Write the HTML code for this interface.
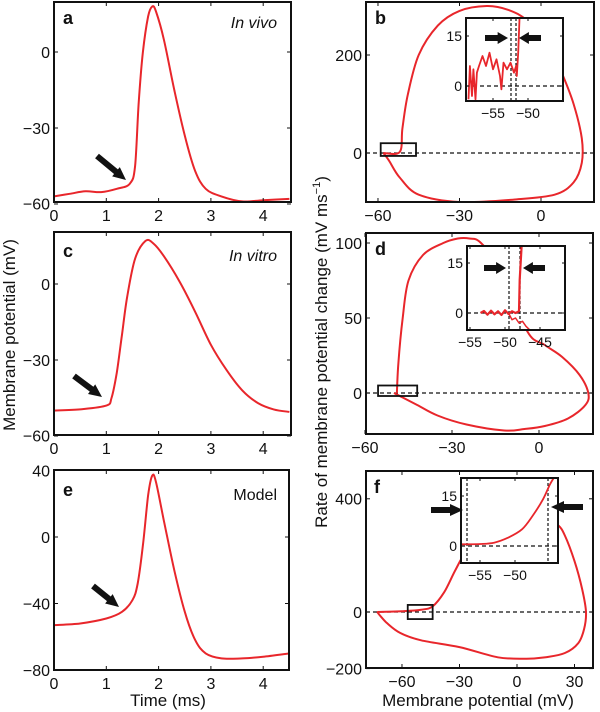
<!DOCTYPE html>
<html><head><meta charset="utf-8"><style>
html,body{margin:0;padding:0;background:#fff;width:600px;height:712px;overflow:hidden}
svg{display:block}
text{font-family:"Liberation Sans",sans-serif;fill:#111}
</style></head><body>
<svg id="fig" width="600" height="712" viewBox="0 0 600 712"></svg>
<script>
// ---- data arrays ----
const aTime=[0,0.3,0.6,0.9,1.2,1.45,1.55,1.62,1.7,1.8,1.88,1.95,2.1,2.3,2.5,2.7,2.9,3.2,3.6,4.0,4.5];
const aVolt=[-57,-56,-55,-55.3,-54,-52,-45,-20,0,14,18,16,5,-15,-33,-47,-54,-57,-59,-58.5,-58];
const cTime=[0,0.5,1.0,1.1,1.2,1.3,1.4,1.55,1.75,1.9,2.1,2.4,2.7,3.0,3.3,3.6,3.9,4.2,4.5];
const cVolt=[-50,-49.5,-48,-45,-35,-20,-5,10,17,16,11,1,-11,-24,-34,-42,-47,-49.5,-50.5];
const eTime=[0,0.5,1.0,1.3,1.5,1.6,1.7,1.8,1.88,1.95,2.1,2.3,2.5,2.7,2.9,3.2,3.6,4.0,4.5];
const eVolt=[-53,-52,-49,-45,-38,-28,-5,25,37,33,10,-20,-45,-62,-70,-73,-73,-72,-70];
const bV=[-58,-52,-51,-49,-45,-38,-30,-20,-12,-5,3,8,12,15,15,12,5,-10,-30,-45,-52,-56,-58];
const bR=[0,2,50,120,200,260,290,300,292,270,220,159,100,30,-20,-60,-85,-95,-100,-85,-50,-15,0];
const bInV=[-58.5,-58.3,-58,-57.8,-57.5,-57.3,-57,-56.5,-56,-55.5,-55,-54.5,-54,-53.8,-53.5,-53,-52.5,-52,-51.7,-51.6,-51.4,-51.2];
const bInR=[-4,6,-3,5,-4,4,6,9,6,10,5,8,3,-1,7,5,7,4,6,3,10,21];
const dV=[-49,-48.5,-47,-45,-40,-33,-28,-24,-20,-12,-4,2,8,14,17,16,10,2,-5,-12,-25,-35,-42,-47,-50];
const dR=[0,20,50,75,92,100,103,103,100,80,41,32,24,12,0,-8,-17,-22,-24,-25,-21,-15,-8,-3,0];
const dInV=[-53.5,-53,-52.5,-52,-51.5,-51,-50.5,-50,-49.5,-49,-48.5,-48,-47.9,-47.6];
const dInR=[0,0.6,-0.5,0.7,-0.4,0.5,-0.6,0.8,-0.3,0.5,0,0.5,10,21];
const dInV2=[-49.5,-49,-48.5,-48,-47.5,-47,-46];
const dInR2=[0,-2,-1.5,-3,-2.5,-4,-6];
const fV=[-73,-60,-50,-44,-38,-32,-26,-15,0,15,21.4,25,30,34,36,35,32,25,15,5,-10,-30,-50,-61,-68,-73];
const fR=[0,3,8,20,70,150,220,300,370,330,307,270,180,80,0,-60,-110,-145,-160,-165,-160,-124,-100,-74,-38,0];
const fInV=[-57.7,-55,-53,-51,-49,-47.5,-46,-45,-44.3];
const fInR=[0.5,0.6,1,2.5,5,9,14,18.5,21];
const tTicks=[0,1,2,3,4];
const vTicksAC=[0,-30,-60];
const vTicksE=[40,0,-40,-80];
const phTicksB=[-60,-30,0];
const rTicksB=[200,0];
const rTicksD=[100,50,0];
const phTicksF=[-60,-30,0,30];
const rTicksF=[400,0,-200];

const NS='http://www.w3.org/2000/svg';
const svg=document.getElementById('fig');
function el(tag,attrs,parent){const e=document.createElementNS(NS,tag);for(const k in attrs)e.setAttribute(k,attrs[k]);(parent||svg).appendChild(e);return e;}
function lin(v0,p0,k){return v=>p0+(v-v0)*k;}
function smooth(pts){let d='M'+pts[0][0].toFixed(1)+','+pts[0][1].toFixed(1);
 for(let i=0;i<pts.length-1;i++){const p0=pts[Math.max(0,i-1)],p1=pts[i],p2=pts[i+1],p3=pts[Math.min(pts.length-1,i+2)];
  const c1=[p1[0]+(p2[0]-p0[0])/6,p1[1]+(p2[1]-p0[1])/6],c2=[p2[0]-(p3[0]-p1[0])/6,p2[1]-(p3[1]-p1[1])/6];
  d+=' C'+c1[0].toFixed(1)+','+c1[1].toFixed(1)+' '+c2[0].toFixed(1)+','+c2[1].toFixed(1)+' '+p2[0].toFixed(1)+','+p2[1].toFixed(1);}
 return d;}
let clipId=0;
function panel(name,box,xs,ys,xt,yt,fs){
 const g=el('g',{});
 
 
 const [x0,y0,x1,y1]=box;
 el('rect',{x:x0,y:y0,width:x1-x0,height:y1-y0,fill:'#fff',stroke:'none'},g);
 const id='c'+(clipId++);
 const cp=el('clipPath',{id:id},g);el('rect',{x:x0,y:y0,width:x1-x0,height:y1-y0},cp);
 const inner=el('g',{'clip-path':'url(#'+id+')'},g);
 const tl=fs>14?4:3;
 xt.forEach(v=>{const x=xs(v);
  el('line',{x1:x,x2:x,y1:y1,y2:y1-tl,stroke:'#111','stroke-width':1},g);
  el('line',{x1:x,x2:x,y1:y0,y2:y0+tl,stroke:'#111','stroke-width':1},g);
  const tx=el('text',{x:x,y:y1+fs+3,'text-anchor':'middle','font-size':fs},g);tx.textContent=String(v).replace('-','\u2212');
  
  });
 yt.forEach(v=>{const y=ys(v);
  el('line',{x1:x0,x2:x0+tl,y1:y,y2:y,stroke:'#111','stroke-width':1},g);
  el('line',{x1:x1,x2:x1-tl,y1:y,y2:y,stroke:'#111','stroke-width':1},g);
  const tx=el('text',{x:x0-4,y:y+fs*0.36,'text-anchor':'end','font-size':fs},g);tx.textContent=String(v).replace('-','\u2212');
  
  });
 return {g,inner,box};
}
function frame(p,w){const [x0,y0,x1,y1]=p.box;const r=el('rect',{x:x0,y:y0,width:x1-x0,height:y1-y0,fill:'none',stroke:'#111','stroke-width':w||2},p.g);
 
 }
function curve(p,X,Y,xs,ys,name,w){const pts=X.map((v,i)=>[xs(v),ys(Y[i])]);
 const c=el('path',{d:smooth(pts),fill:'none',stroke:'#e8262b','stroke-width':w||2,'stroke-linejoin':'round'},p.inner);
 
 }
function jag(p,X,Y,xs,ys,name,w){const d=X.map((v,i)=>(i?'L':'M')+xs(v).toFixed(1)+','+ys(Y[i]).toFixed(1)).join(' ');
 const c=el('path',{d:d,fill:'none',stroke:'#e8262b','stroke-width':w||2,'stroke-linejoin':'round'},p.inner);
 
 }
function hdash(p,y){const l=el('line',{x1:p.box[0],x2:p.box[2],y1:y,y2:y,stroke:'#111','stroke-width':1.2,'stroke-dasharray':'4,3'},p.inner);
 
 }
function vdash(p,x){const l=el('line',{x1:x,x2:x,y1:p.box[1],y2:p.box[3],stroke:'#111','stroke-width':1.2,'stroke-dasharray':'3,2'},p.inner);
 
 }
function label(x,y,txt,opts,name){const t=el('text',Object.assign({x:x,y:y},opts));t.textContent=txt;
 
 return t;}
function arrow(xa,ya,xb,yb,name){const ang=Math.atan2(yb-ya,xb-xa),L=Math.hypot(xb-xa,yb-ya);
 const g=el('g',{transform:`translate(${xb},${yb}) rotate(${ang*180/Math.PI})`});
 
 
 const h=Math.min(13,L*0.45);
 el('polygon',{points:`0,0 ${-h},${-6} ${-h},${-3} ${-L},${-3} ${-L},3 ${-h},3 ${-h},6`,fill:'#111'},g);}

const FS=16, IFS=14;
// ---- panel a ----
const xT=lin(0,54,52.3);
let ys=lin(0,52,-2.533);
let p=panel('panel-a',[54,2,291,202],xT,ys,tTicks,vTicksAC,FS);
curve(p,aTime,aVolt,xT,ys,'trace-a'); frame(p);
label(63,24,'a',{'font-size':18,'font-weight':'bold'},'panel-label-a');
label(277,28,'In vivo',{'font-size':16,'font-style':'italic','text-anchor':'end'},'condition-label-a');
arrow(97,156,126,180,'threshold-arrow-a');

// ---- panel c ----
ys=lin(0,284,-2.533);
p=panel('panel-c',[54,232,291,435],xT,ys,tTicks,vTicksAC,FS);
curve(p,cTime,cVolt,xT,ys,'trace-c'); frame(p);
label(63,257,'c',{'font-size':18,'font-weight':'bold'},'panel-label-c');
label(277,261,'In vitro',{'font-size':16,'font-style':'italic','text-anchor':'end'},'condition-label-c');
arrow(74,376,102,397,'threshold-arrow-c');

// ---- panel e ----
ys=lin(0,537,-1.6625);
p=panel('panel-e',[54,470,289,670],xT,ys,tTicks,vTicksE,FS);
curve(p,eTime,eVolt,xT,ys,'trace-e'); frame(p);
label(63,496,'e',{'font-size':18,'font-weight':'bold'},'panel-label-e');
label(277,500,'Model',{'font-size':16,'text-anchor':'end'},'condition-label-e');
arrow(93,586,119,607,'threshold-arrow-e');

function boxRect(p,xs,ys,v0,v1,r0,r1){const r=el('rect',{x:xs(v0),y:ys(r0),width:xs(v1)-xs(v0),height:ys(r1)-ys(r0),fill:'none',stroke:'#111','stroke-width':1.8},p.inner);
 
 }

// ---- panel b ----
let xs=lin(0,541,2.717); ys=lin(0,153,-0.49);
p=panel('panel-b',[366,2,594,202],xs,ys,phTicksB,rTicksB,FS);
hdash(p,ys(0)); curve(p,bV,bR,xs,ys,'phase-loop-b'); boxRect(p,xs,ys,-59,-46,20,-6);
label(375,24,'b',{'font-size':18,'font-weight':'bold'},'panel-label-b');
let ixs=lin(-55,493,7), iys=lin(0,86,-3.333);
let q=panel('inset-b',[466,18,563,101],ixs,iys,[-55,-50],[15,0],IFS);
hdash(q,iys(0)); vdash(q,511); vdash(q,516);
jag(q,bInV,bInR,ixs,iys,'inset-trace-b',1.8); frame(q,2);
frame(p);
arrow(485,38,508,38,'threshold-arrow-b-left'); arrow(541,38,519,38,'threshold-arrow-b-right');

// ---- panel d ----
xs=lin(0,539,2.9); ys=lin(0,393,-1.5);
p=panel('panel-d',[366,233,593,434],xs,ys,phTicksB,rTicksD,FS);
hdash(p,ys(0)); curve(p,dV,dR,xs,ys,'phase-loop-d'); boxRect(p,xs,ys,-55.5,-42,5,-2);
label(375,255,'d',{'font-size':18,'font-weight':'bold'},'panel-label-d');
ixs=lin(-55,470,7); iys=lin(0,313,-3.333);
q=panel('inset-d',[467,246,565,330],ixs,iys,[-55,-50,-45],[15,0],IFS);
hdash(q,iys(0)); vdash(q,509); vdash(q,520);
jag(q,dInV2,dInR2,ixs,iys,'inset-lower-trace-d',1.5);
jag(q,dInV,dInR,ixs,iys,'inset-trace-d',2.2); frame(q,2);
frame(p);
arrow(484,268,506,268,'threshold-arrow-d-left'); arrow(545,268,523,268,'threshold-arrow-d-right');

// ---- panel f ----
xs=lin(0,517,1.917); ys=lin(0,612,-0.283);
p=panel('panel-f',[366,471,593,668],xs,ys,phTicksF,rTicksF,FS);
hdash(p,ys(0)); curve(p,fV,fR,xs,ys,'phase-loop-f'); boxRect(p,xs,ys,-57,-44,25,-25);
label(374,493,'f',{'font-size':18,'font-weight':'bold'},'panel-label-f');
ixs=lin(-55,480,7); iys=lin(0,546,-3.333);
q=panel('inset-f',[461,478,558,563],ixs,iys,[-55,-50],[15,0],IFS);
hdash(q,iys(0)); vdash(q,467); vdash(q,548);
curve(q,fInV,fInR,ixs,iys,'inset-trace-f',1.8); frame(q,2);
frame(p);
arrow(431,510,463,510,'threshold-arrow-f-left'); arrow(583,507,551,507,'threshold-arrow-f-right');

// ---- axis titles ----
label(0,0,'Membrane potential (mV)',{'font-size':17,'text-anchor':'middle',transform:'translate(15,335) rotate(-90)'},'y-axis-title-left');
const rt=label(0,0,'Rate of membrane potential change (mV ms',{'font-size':17,'text-anchor':'middle',transform:'translate(327,352) rotate(-90)'},'y-axis-title-right');
const sup=el('tspan',{'font-size':11,dy:-7},rt);sup.textContent='\u22121';
const cl=el('tspan',{dy:7},rt);cl.textContent=')';
label(168,706,'Time (ms)',{'font-size':17,'text-anchor':'middle'},'x-axis-title-left');
label(478,706,'Membrane potential (mV)',{'font-size':17,'text-anchor':'middle'},'x-axis-title-right');
</script>
</body></html>
